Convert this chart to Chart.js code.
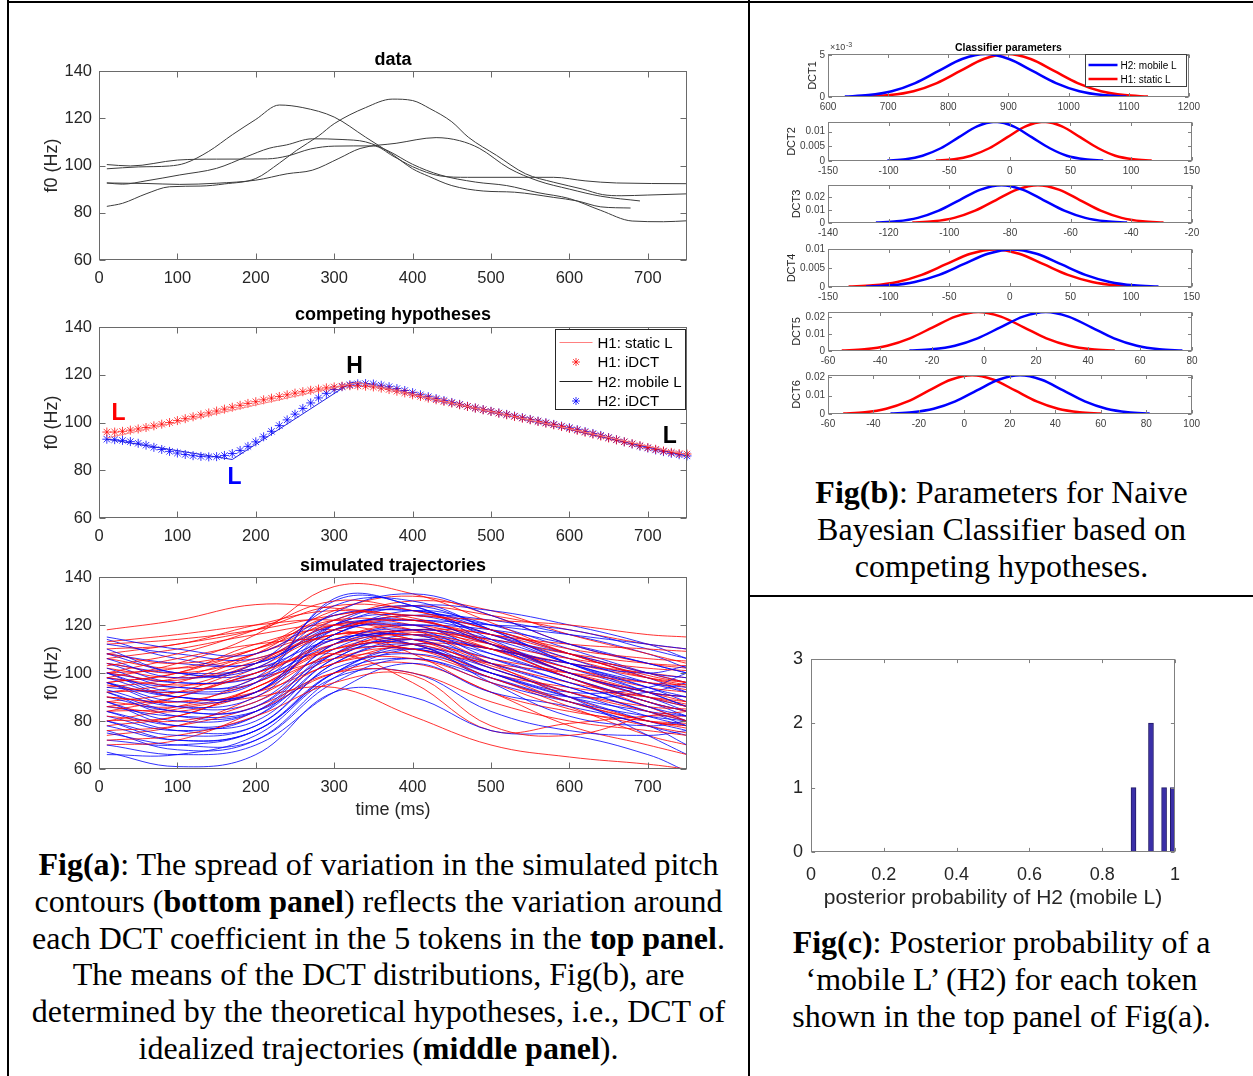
<!DOCTYPE html>
<html>
<head>
<meta charset="utf-8">
<script src="https://cdn.jsdelivr.net/npm/chart.js@4.4.1/dist/chart.umd.min.js"></script>
<style>
body { margin: 0; background: #fff; }
#page { position: relative; width: 1253px; height: 1076px; overflow: hidden; background: #fff; }
#page canvas { position: absolute; }
.rule { position: absolute; background: #000; }
.cap { position: absolute; font-family: 'Liberation Serif', 'Times New Roman', serif; font-size: 32px; line-height: 36.8px; text-align: center; color: #000; white-space: nowrap; }
</style>
</head>
<body>
<div id="page">
  <div class="rule" style="left:7px;top:0;width:2px;height:1076px"></div>
  <div class="rule" style="left:7px;top:1px;width:1246px;height:2px"></div>
  <div class="rule" style="left:748px;top:0;width:2px;height:1076px"></div>
  <div class="rule" style="left:748px;top:595px;width:505px;height:2px"></div>

  <div class="cap" style="left:9px;width:739px;top:846px">
    <b>Fig(a)</b>: The spread of variation in the simulated pitch<br>
    contours (<b>bottom panel</b>) reflects the variation around<br>
    each DCT coefficient in the 5 tokens in the <b>top panel</b>.<br>
    The means of the DCT distributions, Fig(b), are<br>
    determined by the theoretical hypotheses, i.e., DCT of<br>
    idealized trajectories (<b>middle panel</b>).
  </div>
  <div class="cap" style="left:750px;width:503px;top:474px">
    <b>Fig(b)</b>: Parameters for Naive<br>
    Bayesian Classifier based on<br>
    competing hypotheses.
  </div>
  <div class="cap" style="left:750px;width:503px;top:924px">
    <b>Fig(c)</b>: Posterior probability of a<br>
    ‘mobile L’ (H2) for each token<br>
    shown in the top panel of Fig(a).
  </div>
</div>

<script>
// ---- Fig(a) top: the 5 tokens (time ms / f0 Hz)
var tok1T = [10, 40, 100, 150, 215, 240, 270, 300, 350, 375, 400, 435, 470, 580, 620, 660, 750];
var tok1F = [100.4, 99.8, 102.3, 102.7, 102.8, 104, 107, 108.2, 108.3, 104, 99.5, 95.6, 95, 95, 93.5, 92.6, 92.3];
var tok2T = [10, 50, 90, 110, 140, 170, 200, 230, 260, 300, 340, 375, 400, 420, 450, 490, 530, 580, 610, 640, 678];
var tok2F = [98.6, 99.4, 99.8, 101, 106, 113, 119.5, 125.6, 124.5, 120.5, 112, 104.5, 98.6, 95.5, 91.5, 89.2, 88.7, 86.5, 85, 82.5, 82];
var tok3T = [10, 30, 60, 103, 150, 188, 217, 239, 272, 310, 340, 370, 400, 435, 480, 520, 560, 600, 640, 680, 720, 750];
var tok3F = [92.6, 92.1, 93.5, 96, 98.8, 103.7, 107.3, 108.7, 111.3, 111, 110, 106, 100.5, 96, 93, 91.5, 88.5, 86, 81, 76.5, 76.2, 76.6];
var tok4T = [10, 30, 60, 90, 130, 160, 200, 230, 252, 280, 300, 340, 374, 400, 422, 450, 471, 507, 544, 580, 617, 642, 666, 700, 750];
var tok4F = [82.7, 84, 88, 91, 91.3, 92.2, 94.5, 101, 106.4, 112.5, 117.7, 124.5, 128.1, 127.5, 124.1, 118.5, 112, 104.3, 96.5, 92.9, 90, 87.7, 87.2, 87.5, 88];
var tok5T = [10, 60, 103, 150, 200, 240, 272, 306, 333, 379, 430, 460, 485, 523, 560, 600, 640, 690];
var tok5F = [92.6, 92.4, 92, 92.5, 93.8, 96.5, 98, 103, 107.2, 109.4, 111.8, 110.5, 107.3, 98.8, 93.5, 90, 87, 85];

// ---- Fig(a) middle: hypotheses
var h1LineT = [10, 330, 750];
var h1LineF = [93.5, 116.8, 86.5];
var h2LineT = [10, 170, 322, 332, 750];
var h2LineF = [93, 84.5, 116.8, 116.8, 86];
var idctT = [10, 20, 30, 40, 50, 60, 70, 80, 90, 100, 110, 120, 130, 140, 150, 160, 170, 180, 190, 200,
  210, 220, 230, 240, 250, 260, 270, 280, 290, 300, 310, 320, 330, 340, 350, 360, 370, 380, 390, 400,
  410, 420, 430, 440, 450, 460, 470, 480, 490, 500, 510, 520, 530, 540, 550, 560, 570, 580, 590, 600,
  610, 620, 630, 640, 650, 660, 670, 680, 690, 700, 710, 720, 730, 740, 750];
var h1Idct = [96, 96, 96.3, 96.8, 97.3, 97.9, 98.6, 99.3, 100, 100.8, 101.6, 102.4, 103.2, 104, 104.8, 105.6, 106.4, 107.2, 108, 108.7,
  109.5, 110.2, 110.9, 111.6, 112.3, 112.9, 113.5, 114, 114.5, 114.9, 115.2, 115.4, 115.4, 115.2, 114.9, 114.4, 113.8, 113.1, 112.4, 111.6,
  110.9, 110.2, 109.5, 108.8, 108.1, 107.4, 106.7, 106, 105.3, 104.6, 103.9, 103.2, 102.5, 101.8, 101.1, 100.4, 99.7, 99, 98.3, 97.5,
  96.7, 95.9, 95.1, 94.3, 93.5, 92.7, 91.9, 91.1, 90.3, 89.5, 88.8, 88.1, 87.5, 87, 86.8];
var h2Idct = [93, 92.8, 92.5, 92, 91.3, 90.5, 89.6, 88.7, 87.9, 87.2, 86.6, 86.1, 85.8, 85.6, 85.7, 86.2, 87, 88.3, 90, 91.9,
  94, 96.3, 98.7, 101.1, 103.5, 105.9, 108.2, 110.3, 112.2, 113.8, 115, 115.8, 116.2, 116.3, 116.1, 115.6, 115, 114.2, 113.4, 112.5,
  111.6, 110.8, 110, 109.2, 108.4, 107.6, 106.8, 106.1, 105.4, 104.7, 104, 103.4, 102.7, 102, 101.3, 100.6, 99.9, 99.2, 98.5, 97.8,
  97, 96.2, 95.4, 94.6, 93.7, 92.8, 91.9, 91, 90.1, 89.3, 88.5, 87.8, 87.1, 86.5, 86];
var hypNotes = [
  { text: 'L', t: 25, f: 103.6, color: '#ff0000' },
  { text: 'H', t: 326, f: 123.2, color: '#000000' },
  { text: 'L', t: 173, f: 76.8, color: '#0000ff' },
  { text: 'L', t: 728, f: 94.1, color: '#000000' }
];

// ---- Fig(a) bottom: simulated trajectories, sampled every 100 ms
var simT = [10, 100, 200, 300, 400, 500, 600, 700, 750];
var simRed = [
  [118, 122, 128.5, 127, 124, 122, 120, 116, 115],
  [103, 108, 118, 130, 126, 118, 110, 106, 105],
  [98, 104, 116, 136, 133, 121, 108, 99, 96],
  [110, 112, 120, 126, 122, 116, 112, 110, 109],
  [100, 97, 105, 118, 122, 113, 100, 90, 86],
  [95, 92, 100, 112, 116, 110, 98, 88, 84],
  [90, 88, 96, 110, 112, 103, 92, 84, 80],
  [86, 84, 92, 108, 110, 98, 88, 80, 77],
  [82, 80, 88, 104, 106, 96, 85, 78, 75],
  [76, 78, 86, 100, 100, 88, 80, 76, 74],
  [72, 74, 82, 96, 99, 78, 74, 82, 84],
  [80, 85, 90, 94, 82, 70, 65, 62, 60],
  [108, 104, 110, 120, 118, 112, 106, 102, 101],
  [104, 100, 106, 116, 117, 114, 108, 104, 103],
  [96, 100, 110, 122, 120, 110, 98, 86, 80],
  [92, 96, 108, 124, 123, 112, 100, 92, 90],
  [88, 92, 104, 120, 118, 104, 90, 80, 78],
  [84, 90, 102, 116, 114, 102, 92, 86, 85],
  [100, 106, 112, 114, 110, 104, 100, 96, 95],
  [106, 110, 116, 120, 114, 106, 100, 92, 88],
  [94, 98, 108, 118, 124, 118, 108, 98, 94],
  [80, 82, 94, 108, 118, 112, 100, 92, 90],
  [70, 72, 84, 100, 104, 92, 78, 70, 66],
  [113, 116, 120, 122, 116, 110, 104, 100, 98],
  [98, 95, 98, 106, 108, 98, 86, 74, 70],
  [86, 90, 100, 108, 96, 76, 79, 82, 82],
  [112, 114, 118, 124, 128, 124, 118, 112, 110],
  [106, 102, 108, 122, 130, 126, 116, 108, 104],
  [100, 102, 110, 126, 132, 124, 112, 104, 102],
  [92, 94, 104, 116, 112, 100, 94, 90, 88],
  [88, 86, 94, 112, 118, 116, 108, 100, 96],
  [84, 86, 98, 114, 120, 112, 102, 96, 93],
  [78, 82, 94, 110, 114, 104, 96, 90, 87],
  [74, 78, 90, 106, 110, 100, 88, 80, 78],
  [96, 100, 112, 118, 108, 92, 84, 80, 79],
  [102, 98, 102, 110, 114, 110, 104, 98, 96],
  [90, 88, 92, 104, 112, 110, 102, 94, 92],
  [108, 112, 118, 128, 126, 116, 106, 98, 95]
];
var simBlue = [
  [115, 110, 108, 124, 126, 120, 116, 112, 110],
  [110, 100, 102, 125, 133, 124, 112, 104, 100],
  [106, 98, 104, 128, 130, 118, 104, 94, 90],
  [100, 92, 96, 131, 128, 114, 100, 92, 90],
  [96, 88, 92, 118, 122, 112, 100, 90, 86],
  [93, 86, 90, 116, 120, 108, 98, 88, 84],
  [90, 84, 86, 112, 118, 106, 96, 86, 82],
  [88, 80, 84, 110, 116, 104, 94, 84, 80],
  [84, 78, 80, 106, 114, 102, 92, 82, 78],
  [80, 74, 78, 104, 112, 100, 90, 80, 76],
  [78, 72, 76, 100, 110, 98, 88, 78, 74],
  [75, 70, 72, 96, 106, 96, 88, 82, 80],
  [70, 66, 70, 92, 104, 92, 86, 78, 70],
  [67, 61, 66, 92, 90, 76, 74, 66, 59],
  [66, 66, 74, 98, 100, 84, 76, 74, 76],
  [100, 96, 98, 112, 118, 114, 108, 100, 98],
  [104, 100, 102, 114, 116, 110, 104, 100, 103],
  [108, 104, 104, 118, 120, 118, 112, 104, 100],
  [112, 108, 106, 120, 122, 120, 118, 110, 106],
  [94, 92, 96, 120, 124, 116, 104, 96, 94],
  [98, 90, 92, 114, 112, 100, 90, 84, 82],
  [86, 82, 84, 102, 108, 100, 92, 94, 100],
  [82, 76, 82, 108, 112, 96, 82, 78, 80],
  [92, 84, 86, 108, 110, 102, 90, 74, 66],
  [102, 94, 98, 130, 128, 112, 98, 88, 84],
  [96, 90, 92, 120, 128, 118, 104, 92, 86],
  [114, 106, 104, 120, 128, 126, 120, 112, 106],
  [108, 100, 100, 118, 124, 122, 116, 108, 102],
  [104, 96, 100, 122, 126, 118, 108, 98, 92],
  [100, 90, 92, 116, 122, 116, 106, 96, 92],
  [96, 86, 88, 112, 120, 114, 104, 94, 88],
  [92, 82, 84, 108, 118, 112, 102, 92, 86],
  [88, 78, 82, 106, 116, 110, 100, 90, 84],
  [84, 76, 78, 104, 114, 108, 98, 88, 82],
  [80, 72, 76, 100, 112, 106, 96, 86, 80],
  [76, 68, 72, 98, 110, 104, 94, 84, 78],
  [72, 70, 76, 100, 106, 98, 90, 92, 96],
  [98, 94, 96, 116, 126, 120, 110, 100, 96]
];
var msTicks = [0, 100, 200, 300, 400, 500, 600, 700];
var f0Ticks = [60, 80, 100, 120, 140];

// ---- Fig(b): classifier parameter densities (H2 blue, H1 red)
var dct1BlueX = [628, 667, 706, 745, 784, 823, 862, 901, 940, 979, 1018, 1057, 1096];
var dct1RedX = [664, 703, 742, 781, 820, 859, 898, 937, 976, 1015, 1054, 1093, 1132];
var dct1Y = [0.000057, 0.000224, 0.00069, 0.001656, 0.003093, 0.004501, 0.0051, 0.004501, 0.003093, 0.001656, 0.00069, 0.000224, 0.000057];
var dct2BlueX = [-101, -86, -72, -57, -42, -27, -12, 3, 18, 33, 47, 62, 77];
var dct2RedX = [-61, -46, -32, -17, -2, 13, 28, 43, 58, 73, 87, 102, 117];
var dct2Y = [0.00015, 0.00059, 0.00181, 0.00435, 0.00813, 0.01183, 0.0134, 0.01183, 0.00813, 0.00435, 0.00181, 0.00059, 0.00015];
var dct3BlueX = [-124.2, -117.3, -110.4, -103.5, -96.6, -89.7, -82.8, -75.9, -69, -62.1, -55.2, -48.3, -41.4];
var dct3RedX = [-112.2, -105.3, -98.4, -91.5, -84.6, -77.7, -70.8, -63.9, -57, -50.1, -43.2, -36.3, -29.4];
var dct3Y = [0.00032, 0.00127, 0.00391, 0.00938, 0.01753, 0.0255, 0.0289, 0.0255, 0.01753, 0.00938, 0.00391, 0.00127, 0.00032];
var dct4BlueX = [-118.6, -98.5, -78.4, -58.3, -38.2, -18.1, 2, 22.1, 42.2, 62.3, 82.4, 102.5, 122.6];
var dct4RedX = [-133, -112.9, -92.8, -72.7, -52.6, -32.5, -12.4, 7.7, 27.8, 47.9, 68, 88.1, 108.2];
var dct4Y = [0.00011, 0.00043, 0.00134, 0.00321, 0.006, 0.00874, 0.0099, 0.00874, 0.006, 0.00321, 0.00134, 0.00043, 0.00011];
var dct5BlueX = [-28.7, -20, -11.2, -2.5, 6.3, 15, 23.8, 32.5, 41.3, 50, 58.8, 67.5, 76.3];
var dct5RedX = [-54.7, -46, -37.2, -28.5, -19.7, -11, -2.2, 6.5, 15.3, 24, 32.8, 41.5, 50.3];
var dct5Y = [0.00025, 0.001, 0.00308, 0.0074, 0.01383, 0.02012, 0.0228, 0.02012, 0.01383, 0.0074, 0.00308, 0.001, 0.00025];
var dct6BlueX = [-32.5, -23, -13.5, -4, 5.5, 15, 24.5, 34, 43.5, 53, 62.5, 72, 81.5];
var dct6RedX = [-53.3, -43.8, -34.4, -24.9, -15.5, -6, 3.4, 12.9, 22.3, 31.8, 41.2, 50.7, 60.1];
var dct6Y = [0.00023, 0.00093, 0.00285, 0.00685, 0.0128, 0.01862, 0.0211, 0.01862, 0.0128, 0.00685, 0.00285, 0.00093, 0.00023];
var dctXTicks = [
  [600, 700, 800, 900, 1000, 1100, 1200],
  [-150, -100, -50, 0, 50, 100, 150],
  [-140, -120, -100, -80, -60, -40, -20],
  [-150, -100, -50, 0, 50, 100, 150],
  [-60, -40, -20, 0, 20, 40, 60, 80],
  [-60, -40, -20, 0, 20, 40, 60, 80, 100]
];
var dctYTicks = [[0, 0.005], [0, 0.005, 0.01], [0, 0.01, 0.02], [0, 0.005, 0.01], [0, 0.01, 0.02], [0, 0.01, 0.02]];
var dctYMax = [0.0051, 0.0133, 0.029, 0.01, 0.0228, 0.0212];

// ---- Fig(c): histogram of posterior probabilities
var histCenters = [0.886, 0.934, 0.970, 0.994];
var histCounts = [1, 2, 1, 1];
var probTicks = [0, 0.2, 0.4, 0.6, 0.8, 1];
var countTicks = [0, 1, 2, 3];

Chart.defaults.font.family = "'Liberation Sans', Arial, sans-serif";
Chart.defaults.color = '#262626';

var page = document.getElementById('page');

function pts(xs, ys) {
  return xs.map(function (x, i) { return { x: x, y: ys[i] }; });
}

function drawStar(ctx, x, y, r) {
  ctx.beginPath();
  for (var k = 0; k < 4; k++) {
    var ang = k * Math.PI / 4;
    ctx.moveTo(x - r * Math.cos(ang), y - r * Math.sin(ang));
    ctx.lineTo(x + r * Math.cos(ang), y + r * Math.sin(ang));
  }
  ctx.stroke();
}

// matlab-like axes box, inward ticks, titles, labels, legends, notes
var frame = {
  id: 'frame',
  afterDraw: function (chart) {
    var o = chart.options.plugins.frame;
    var ctx = chart.ctx, a = chart.chartArea, sx = chart.scales.x, sy = chart.scales.y;
    ctx.save();
    ctx.strokeStyle = o.boxColor;
    ctx.lineWidth = 1;
    var l = Math.round(a.left) + 0.5, t = Math.round(a.top) + 0.5, r = Math.round(a.right) - 0.5, b = Math.round(a.bottom) - 0.5;
    ctx.strokeRect(l, t, r - l, b - t);
    ctx.beginPath();
    sx.ticks.forEach(function (tk) {
      var px = Math.round(sx.getPixelForValue(tk.value)) + 0.5;
      ctx.moveTo(px, b); ctx.lineTo(px, b - o.tickLen);
      ctx.moveTo(px, t); ctx.lineTo(px, t + o.tickLen);
    });
    sy.ticks.forEach(function (tk) {
      var py = Math.round(sy.getPixelForValue(tk.value)) + 0.5;
      ctx.moveTo(l, py); ctx.lineTo(l + o.tickLen, py);
      ctx.moveTo(r, py); ctx.lineTo(r - o.tickLen, py);
    });
    ctx.stroke();

    ctx.fillStyle = '#000';
    ctx.textAlign = 'center';
    ctx.textBaseline = 'middle';
    if (o.title) {
      ctx.font = o.title.font;
      ctx.fillText(o.title.text, (a.left + a.right) / 2, a.top + o.title.dy);
    }
    if (o.xlabel) {
      ctx.font = o.xlabel.font;
      ctx.fillStyle = '#262626';
      ctx.fillText(o.xlabel.text, (a.left + a.right) / 2, a.bottom + o.xlabel.dy);
    }
    if (o.ylabel) {
      ctx.save();
      ctx.translate(a.left + o.ylabel.dx, (a.top + a.bottom) / 2);
      ctx.rotate(-Math.PI / 2);
      ctx.font = o.ylabel.font;
      ctx.fillStyle = '#262626';
      ctx.fillText(o.ylabel.text, 0, 0);
      ctx.restore();
    }
    if (o.exponent) {
      ctx.fillStyle = '#404040';
      ctx.textAlign = 'left';
      ctx.font = "9px 'Liberation Sans', Arial, sans-serif";
      ctx.fillText('\u00d710', a.left + 2, a.top - 6);
      ctx.font = "7px 'Liberation Sans', Arial, sans-serif";
      ctx.fillText('-3', a.left + 18, a.top - 9);
    }
    if (o.notes) {
      o.notes.forEach(function (n) {
        ctx.font = o.notesFont;
        ctx.fillStyle = n.color;
        ctx.textAlign = 'center';
        ctx.fillText(n.text, sx.getPixelForValue(n.t), sy.getPixelForValue(n.f));
      });
    }
    if (o.legend) {
      var L = o.legend;
      var x0 = Math.round(a.right - L.right) + 0.5, y0 = Math.round(a.top + L.top) + 0.5;
      ctx.fillStyle = '#fff';
      ctx.fillRect(x0, y0, L.w, L.h);
      ctx.strokeStyle = L.edge;
      ctx.lineWidth = 1;
      ctx.strokeRect(x0, y0, L.w, L.h);
      ctx.font = L.font;
      ctx.textAlign = 'left';
      L.items.forEach(function (it, i) {
        var yy = y0 + L.first + i * L.step;
        ctx.strokeStyle = it.color;
        ctx.lineWidth = it.width;
        if (it.star) {
          drawStar(ctx, x0 + (L.s0 + L.s1) / 2, yy, it.star);
        } else {
          ctx.beginPath();
          ctx.moveTo(x0 + L.s0, yy);
          ctx.lineTo(x0 + L.s1, yy);
          ctx.stroke();
        }
        ctx.fillStyle = '#000';
        ctx.fillText(it.label, x0 + L.tx, yy + 1);
      });
    }
    ctx.restore();
  }
};

function lin(min, max, ticks, size, pad, color, fmt) {
  return {
    type: 'linear', min: min, max: max, offset: false,
    grid: { display: false, drawTicks: false, offset: false },
    border: { display: false },
    afterBuildTicks: function (s) { s.ticks = ticks.map(function (v) { return { value: v }; }); },
    ticks: {
      font: { size: size }, color: color, padding: pad, autoSkip: false, maxRotation: 0, minRotation: 0,
      callback: fmt || function (v) { return String(v); }
    }
  };
}

// box = [left, top, right, bottom] of the plot area on the page; pad = [l, t, r, b]
function makeChart(box, pad, cfg) {
  var cv = document.createElement('canvas');
  var w = box[2] - box[0] + pad[0] + pad[2], h = box[3] - box[1] + pad[1] + pad[3];
  cv.width = w; cv.height = h;
  cv.style.left = (box[0] - pad[0]) + 'px';
  cv.style.top = (box[1] - pad[1]) + 'px';
  cv.style.width = w + 'px';
  cv.style.height = h + 'px';
  page.appendChild(cv);
  var op = cfg.options;
  op.responsive = false;
  op.animation = false;
  op.events = [];
  op.layout = { padding: { top: pad[1], right: pad[2], left: 0, bottom: 0 }, autoPadding: false };
  op.scales.x.afterFit = function (s) { s.height = pad[3]; };
  op.scales.y.afterFit = function (s) { s.width = pad[0]; };
  op.plugins.legend = { display: false };
  op.plugins.tooltip = { enabled: false };
  cfg.plugins = [frame];
  return new Chart(cv, cfg);
}

var fontA = "'Liberation Sans', Arial, sans-serif";

function curve(xs, ys, color, width) {
  return { data: pts(xs, ys), borderColor: color, borderWidth: width, pointRadius: 0, fill: false,
    tension: 0.4, cubicInterpolationMode: 'monotone', clip: 0 };
}

// Fig(a) top: data
makeChart([99, 71, 687, 260], [62, 26, 12, 32], {
  type: 'line',
  data: { datasets: [
    curve(tok1T, tok1F, '#3c3c3c', 1),
    curve(tok2T, tok2F, '#3c3c3c', 1),
    curve(tok3T, tok3F, '#3c3c3c', 1),
    curve(tok4T, tok4F, '#3c3c3c', 1),
    curve(tok5T, tok5F, '#3c3c3c', 1)
  ] },
  options: {
    scales: { x: lin(0, 750, msTicks, 16.5, 9, '#262626'), y: lin(60, 140, f0Ticks, 16.5, 7, '#262626') },
    plugins: { frame: {
      boxColor: '#6a6a6a', tickLen: 6,
      title: { text: 'data', font: 'bold 18px ' + fontA, dy: -11 },
      ylabel: { text: 'f0 (Hz)', font: '18px ' + fontA, dx: -47 }
    } }
  }
});

// Fig(a) middle: competing hypotheses
var starRed = { data: pts(idctT, h1Idct), showLine: false, pointStyle: 'star', pointRadius: 4.5,
  pointBorderColor: 'rgba(255,0,0,0.75)', pointBorderWidth: 1, borderColor: 'rgba(255,0,0,0.75)', clip: false };
var starBlue = { data: pts(idctT, h2Idct), showLine: false, pointStyle: 'star', pointRadius: 4.5,
  pointBorderColor: 'rgba(0,0,255,0.8)', pointBorderWidth: 1, borderColor: 'rgba(0,0,255,0.8)', clip: false };
makeChart([99, 327, 687, 518], [62, 26, 12, 32], {
  type: 'line',
  data: { datasets: [
    { data: pts(h1LineT, h1LineF), borderColor: '#ff8080', borderWidth: 1, pointRadius: 0, tension: 0 },
    starRed,
    { data: pts(h2LineT, h2LineF), borderColor: '#2020e0', borderWidth: 1, pointRadius: 0, tension: 0 },
    starBlue
  ] },
  options: {
    scales: { x: lin(0, 750, msTicks, 16.5, 9, '#262626'), y: lin(60, 140, f0Ticks, 16.5, 7, '#262626') },
    plugins: { frame: {
      boxColor: '#6a6a6a', tickLen: 6,
      title: { text: 'competing hypotheses', font: 'bold 18px ' + fontA, dy: -12 },
      ylabel: { text: 'f0 (Hz)', font: '18px ' + fontA, dx: -47 },
      notes: hypNotes, notesFont: 'bold 23px ' + fontA,
      legend: {
        right: 132, top: 2, w: 130, h: 80, edge: '#262626', font: '15px ' + fontA,
        first: 13, step: 19.5, s0: 4, s1: 37, tx: 42,
        items: [
          { label: 'H1: static L', color: '#ff8080', width: 1 },
          { label: 'H1: iDCT', color: 'rgba(255,0,0,0.75)', width: 1, star: 4 },
          { label: 'H2: mobile L', color: '#202020', width: 1 },
          { label: 'H2: iDCT', color: 'rgba(0,0,255,0.8)', width: 1, star: 4 }
        ]
      }
    } }
  }
});

// Fig(a) bottom: simulated trajectories (red and blue interleaved)
var simSets = [];
for (var i = 0; i < Math.max(simRed.length, simBlue.length); i++) {
  if (simRed[i]) simSets.push({ data: pts(simT, simRed[i]), borderColor: 'rgba(255,0,0,0.9)', borderWidth: 0.9, pointRadius: 0, tension: 0.4, clip: 0 });
  if (simBlue[i]) simSets.push({ data: pts(simT, simBlue[i]), borderColor: 'rgba(0,0,255,0.9)', borderWidth: 0.9, pointRadius: 0, tension: 0.4, clip: 0 });
}
makeChart([99, 577, 687, 769], [62, 26, 12, 58], {
  type: 'line',
  data: { datasets: simSets },
  options: {
    scales: { x: lin(0, 750, msTicks, 16.5, 9, '#262626'), y: lin(60, 140, f0Ticks, 16.5, 7, '#262626') },
    plugins: { frame: {
      boxColor: '#6a6a6a', tickLen: 6,
      title: { text: 'simulated trajectories', font: 'bold 18px ' + fontA, dy: -11 },
      ylabel: { text: 'f0 (Hz)', font: '18px ' + fontA, dx: -47 },
      xlabel: { text: 'time (ms)', font: '18px ' + fontA, dy: 41 }
    } }
  }
});

// Fig(b): six DCT panels
var dctBoxes = [[828, 54, 1192, 97], [828, 119, 1192, 161], [828, 182, 1192, 223],
  [828, 246, 1192, 287], [828, 309, 1192, 351], [828, 372, 1192, 414]];
var dctLabelDx = [-15, -36, -31, -36, -31, -31];
var dctBlueX = [dct1BlueX, dct2BlueX, dct3BlueX, dct4BlueX, dct5BlueX, dct6BlueX];
var dctRedX = [dct1RedX, dct2RedX, dct3RedX, dct4RedX, dct5RedX, dct6RedX];
var dctY = [dct1Y, dct2Y, dct3Y, dct4Y, dct5Y, dct6Y];
dctBoxes.forEach(function (bx, k) {
  var xt = dctXTicks[k];
  var fr = {
    boxColor: '#808080', tickLen: 3.5,
    ylabel: { text: 'DCT' + (k + 1), font: '11px ' + fontA, dx: dctLabelDx[k] }
  };
  if (k === 0) {
    fr.title = { text: 'Classifier parameters', font: 'bold 10.5px ' + fontA, dy: -6 };
    fr.exponent = true;
    fr.legend = {
      right: 104, top: 0, w: 101, h: 32, edge: '#404040', font: '10px ' + fontA,
      first: 10.5, step: 14, s0: 3, s1: 32, tx: 35,
      items: [
        { label: 'H2: mobile L', color: '#0000ff', width: 2.5 },
        { label: 'H1: static L', color: '#ff0000', width: 2.5 }
      ]
    };
  }
  makeChart(bx, [48, k === 0 ? 14 : 6, 12, 17], {
    type: 'line',
    data: { datasets: [
      curve(dctBlueX[k], dctY[k], '#0000ff', 2.5),
      curve(dctRedX[k], dctY[k], '#ff0000', 2.5)
    ] },
    options: {
      scales: {
        x: lin(xt[0], xt[xt.length - 1], xt, 10, 4, '#404040'),
        y: lin(0, dctYMax[k], dctYTicks[k], 10, 3, '#404040', k === 0 ? function (v) { return String(Math.round(v * 1000)); } : null)
      },
      plugins: { frame: fr }
    }
  });
});

// Fig(c): histogram
makeChart([811, 654, 1175, 852], [50, 14, 20, 62], {
  type: 'bar',
  data: { datasets: [{
    data: pts(histCenters, histCounts),
    backgroundColor: '#3a2fa8', borderColor: '#221a66', borderWidth: 1, barThickness: 5
  }] },
  options: {
    scales: {
      x: lin(0, 1, probTicks, 18, 12, '#262626'),
      y: lin(0, 3, countTicks, 18, 8, '#262626')
    },
    plugins: { frame: {
      boxColor: '#808080', tickLen: 3.6,
      xlabel: { text: 'posterior probability of H2 (mobile L)', font: '21px ' + fontA, dy: 46 }
    } }
  }
});
</script>
</body>
</html>
